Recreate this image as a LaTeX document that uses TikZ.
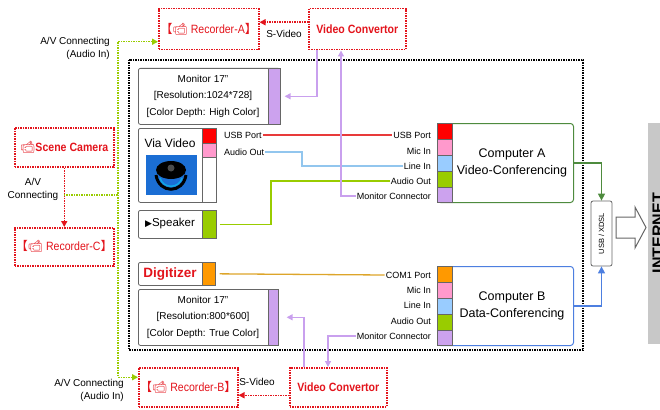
\documentclass[tikz,border=0pt]{standalone}
\usepackage{fontspec}
\setmainfont{Liberation Sans}
\newfontfamily\cjkfont{Noto Sans CJK SC}
\newfontfamily\emojifont{Noto Emoji}
\newfontfamily\symfont{DejaVu Sans}
\newfontfamily\narrowfont[FakeStretch=0.88]{Liberation Sans}
\usetikzlibrary{arrows.meta}

\definecolor{recred}{HTML}{E3141C}
\definecolor{portred}{HTML}{FF0000}
\definecolor{portpink}{HTML}{FF99CC}
\definecolor{portblue}{HTML}{99CCFF}
\definecolor{portgreen}{HTML}{99CC00}
\definecolor{portpurple}{HTML}{CCA2EE}
\definecolor{portorange}{HTML}{FF9900}
\definecolor{boxgray}{HTML}{666666}
\definecolor{compgreen}{HTML}{4E8B3E}
\definecolor{compblue}{HTML}{4D7FE0}
\definecolor{wirered}{HTML}{E83A3A}
\definecolor{wireblue}{HTML}{92C6EE}
\definecolor{wiregreen}{HTML}{99CC00}
\definecolor{wirepurple}{HTML}{C9A0EE}
\definecolor{wireorange}{HTML}{DDA52A}
\definecolor{camblue}{HTML}{1B6ED4}
\definecolor{netgray}{HTML}{C8C8C8}

\newcommand{\camicon}{{\emojifont 📹}}
\newcommand{\recL}{{\cjkfont 【}}
\newcommand{\recR}{{\cjkfont 】}}

\begin{document}
\begin{tikzpicture}[x=1pt, y=-1pt,
    redbox/.style={draw=recred, densely dotted, line width=1.5pt, anchor=north west, inner sep=0pt},
    redtext/.style={text=recred, font=\narrowfont\fontsize{12}{14}\selectfont},
    unit/.style={draw=boxgray, line width=0.8pt, rounded corners=2pt, fill=white, anchor=north west, inner sep=0pt},
    cell/.style={draw=boxgray, line width=0.6pt, anchor=north west, inner sep=0pt},
    comp/.style={line width=1pt, rounded corners=3pt, fill=white, anchor=north west, inner sep=0pt,
        minimum width=136pt, minimum height=79pt},
    tag/.style={font=\fontsize{9}{10}\selectfont, inner sep=1pt},
    note/.style={font=\fontsize{10}{13}\selectfont, inner sep=0pt},
    screen/.style={font=\fontsize{10}{16.5}\selectfont, align=center},
    wire/.style={line width=1.3pt, draw=#1},
    headed/.style={-{Triangle[length=6pt,width=6pt]}},
    reddot/.style={draw=recred, densely dotted, line width=1.5pt},
    gdot/.style={draw=wiregreen, densely dotted, line width=1.5pt},
    frame/.style={draw=black, densely dotted, line width=1.5pt}]
\useasboundingbox (0,0) rectangle (660,409);
\clip (0,0) rectangle (660,409);

% Recorders, camera and convertors
\node[redbox, minimum width=100pt, minimum height=41pt, redtext] (recA) at (158,8) {\recL\camicon{} Recorder-A\recR};
\node[redbox, minimum width=97pt, minimum height=41pt, redtext, font=\narrowfont\bfseries\fontsize{12}{14}\selectfont] (convA) at (308,8) {Video Convertor};
\node[redbox, minimum width=99pt, minimum height=39pt, redtext, font=\narrowfont\bfseries\fontsize{12}{14}\selectfont] (scene) at (14,127) {\camicon Scene Camera};
\node[redbox, minimum width=99pt, minimum height=38pt, redtext] (recC) at (14,227) {\recL\camicon{} Recorder-C\recR};
\node[redbox, minimum width=99pt, minimum height=39pt, redtext] (recB) at (138,367) {\recL\camicon{} Recorder-B\recR};
\node[redbox, minimum width=97pt, minimum height=39pt, redtext, font=\narrowfont\bfseries\fontsize{12}{14}\selectfont] (convB) at (289,367) {Video Convertor};

% Dotted frame round the two stations
\draw[frame] (129,60) rectangle (583,350);

% Monitor of computer A
\node[unit, minimum width=142pt, minimum height=56pt] (monA) at (138,68) {};
\node[cell, fill=portpurple, minimum width=12pt, minimum height=56pt] (monAs) at (268,68) {};
\node[screen] (monAt) at (203,96) {Monitor 17"\\{[Resolution:1024*728]}\\{[Color Depth: High Color]}};

% Via Video camera
\node[unit, minimum width=78pt, minimum height=74pt] (viaV) at (138,128) {};
\node[cell, fill=white, minimum width=14pt, minimum height=74pt] (viaS) at (202,128) {};
\node[cell, fill=portred, minimum width=14pt, minimum height=15pt] (viaS1) at (202,128) {};
\node[cell, fill=portpink, minimum width=14pt, minimum height=14pt] (viaS2) at (202,143) {};
\node[font=\fontsize{12}{14}\selectfont] (viaT) at (170,143) {Via Video};
\fill[camblue] (146,155) rectangle (197,195);
\fill[black] (171,170) ellipse (15 and 9);
\fill[black!70] (171,168) circle (3.5);
\draw[black, line width=3pt] (156,175) .. controls (159,194) and (183,194) .. (186,175);
\draw[camblue!60!cyan, line width=1.5pt] (160,178) .. controls (163,189) and (179,189) .. (182,178);
\node[tag, anchor=west] (vUsb) at (223,135) {USB Port};
\node[tag, anchor=west] (vAud) at (223,152) {Audio Out};

% Speaker
\node[unit, minimum width=78pt, minimum height=28pt] (spk) at (138,210) {};
\node[cell, fill=portgreen, minimum width=14pt, minimum height=28pt] (spkS) at (202,210) {};
\node[font=\fontsize{11.5}{14}\selectfont] (spkT) at (170,224) {{\symfont\fontsize{9}{10}\selectfont ▶}Speaker};

% Digitizer
\node[unit, minimum width=77pt, minimum height=23pt] (dig) at (138,262) {};
\node[cell, fill=portorange, minimum width=13pt, minimum height=23pt] (digS) at (202,262) {};
\node[text=recred, font=\bfseries\fontsize{13.5}{15}\selectfont] (digT) at (170,274) {Digitizer};

% Monitor of computer B
\node[unit, minimum width=140pt, minimum height=56pt] (monB) at (138,289) {};
\node[cell, fill=portpurple, minimum width=10pt, minimum height=56pt] (monBs) at (268,289) {};
\node[screen] (monBt) at (203,317) {Monitor 17"\\{[Resolution:800*600]}\\{[Color Depth: True Color]}};

% Computer A
\node[comp, draw=compgreen] (compA) at (437,123) {};
\node[cell, fill=portred, minimum width=15pt, minimum height=16pt] (cA1) at (437,123) {};
\node[cell, fill=portpink, minimum width=15pt, minimum height=16pt] (cA2) at (437,139) {};
\node[cell, fill=portblue, minimum width=15pt, minimum height=16pt] (cA3) at (437,155) {};
\node[cell, fill=portgreen, minimum width=15pt, minimum height=16pt] (cA4) at (437,171) {};
\node[cell, fill=portpurple, minimum width=15pt, minimum height=15pt] (cA5) at (437,187) {};
\node[font=\fontsize{12.5}{17}\selectfont, align=center] (compAt) at (512,163) {Computer A\\Video-Conferencing};
\node[tag, anchor=east] (aUsb) at (432,135) {USB Port};
\node[tag, anchor=east] (aMic) at (432,151) {Mic In};
\node[tag, anchor=east] (aLine) at (432,166) {Line In};
\node[tag, anchor=east] (aAud) at (432,181) {Audio Out};
\node[tag, anchor=east] (aMon) at (432,196) {Monitor Connector};

% Computer B
\node[comp, draw=compblue] (compB) at (437,266) {};
\node[cell, fill=portorange, minimum width=15pt, minimum height=16pt] (cB1) at (437,266) {};
\node[cell, fill=portpink, minimum width=15pt, minimum height=16pt] (cB2) at (437,282) {};
\node[cell, fill=portblue, minimum width=15pt, minimum height=16pt] (cB3) at (437,298) {};
\node[cell, fill=portgreen, minimum width=15pt, minimum height=16pt] (cB4) at (437,314) {};
\node[cell, fill=portpurple, minimum width=15pt, minimum height=15pt] (cB5) at (437,330) {};
\node[font=\fontsize{12.5}{17}\selectfont, align=center] (compBt) at (512,306) {Computer B\\Data-Conferencing};
\node[tag, anchor=east] (bCom) at (432,275) {COM1 Port};
\node[tag, anchor=east] (bMic) at (432,290) {Mic In};
\node[tag, anchor=east] (bLine) at (432,305) {Line In};
\node[tag, anchor=east] (bAud) at (432,321) {Audio Out};
\node[tag, anchor=east] (bMon) at (432,336) {Monitor Connector};

% Modem and internet
\node[draw=boxgray, line width=0.8pt, rounded corners=2pt, rotate=90, minimum width=65pt, minimum height=21pt,
    inner sep=0pt, font=\fontsize{7.5}{9}\selectfont] (usb) at (601.5,233.5) {USB / XDSL};
\draw[boxgray, fill=white, line width=1pt] (616,217) -- (635,217) -- (635,207) -- (646,227.5)
    -- (635,248) -- (635,238) -- (616,238) -- cycle;
\fill[netgray] (648,123) rectangle (670,344);
\node[rotate=90, font=\bfseries\fontsize{16}{18}\selectfont, inner sep=0pt] (net) at (658,233) {INTERNET};

% Cables between the stations
\draw[wire=wirered] (vUsb.east) -- (aUsb.west);
\coordinate (jBlue) at (302,166);
\draw[wire=wireblue] (vAud.east) -| (jBlue) -- (aLine.west);
\coordinate (jGreen) at (271,181);
\draw[wire=wiregreen] ([xshift=3pt]spkS.east) -| (jGreen) -- (aAud.west);
\draw[wire=wireorange, shorten <=4pt] (digS.east) -- (bCom.west);

% Video convertor feeds
\coordinate (jA1) at (317,0);
\coordinate (jA2) at (341,0);
\draw[wire=wirepurple, headed, shorten >=4pt] (jA1 |- convA.south) |- (monAs.east);
\draw[wire=wirepurple, headed] (aMon.west) -| (jA2 |- convA.south);
\coordinate (jB1) at (304,0);
\coordinate (jB2) at (328,0);
\draw[wire=wirepurple, headed, shorten >=8pt] (jB1 |- convB.north) |- (monBs.east);
\draw[wire=wirepurple, headed] (bMon.west) -| (jB2 |- convB.north);

% Network links
\draw[wire=compgreen, -{Triangle[length=7pt,width=7pt]}] (compA.east) -| (usb.east);
\draw[wire=compblue, -{Triangle[length=7pt,width=7pt]}] (compB.east) -| (usb.west);

% S-Video and A/V links
\draw[reddot, headed] ([yshift=7pt]convA.west) -- ([yshift=7pt]recA.east);
\node[note] (svA) at (284,34) {S-Video};
\draw[reddot, headed] ([yshift=-8pt]convB.west) -- ([yshift=-8pt]recB.east);
\node[note] (svB) at (257,382) {S-Video};
\draw[reddot, headed] (scene.south) -- (recC.north);
\coordinate (jG) at (118,200);
\draw[gdot, {Triangle[length=6pt,width=6pt]}-{Triangle[length=6pt,width=6pt]}]
    ([yshift=-12.5pt]recA.west) -| (jG) |- ([yshift=10pt]recB.west);
\coordinate (jSc) at (63.5,195);
\draw[gdot] (jSc) -- (jSc -| jG);
\node[note, anchor=north east, align=right] (avA) at (110,37) {A/V Connecting\\(Audio In)};
\node[note, anchor=north east, align=right] (avB) at (124,379) {A/V Connecting\\(Audio In)};
\node[note, align=center, fill=white] (avC) at (33,189) {A/V\\Connecting};
\end{tikzpicture}
\end{document}
